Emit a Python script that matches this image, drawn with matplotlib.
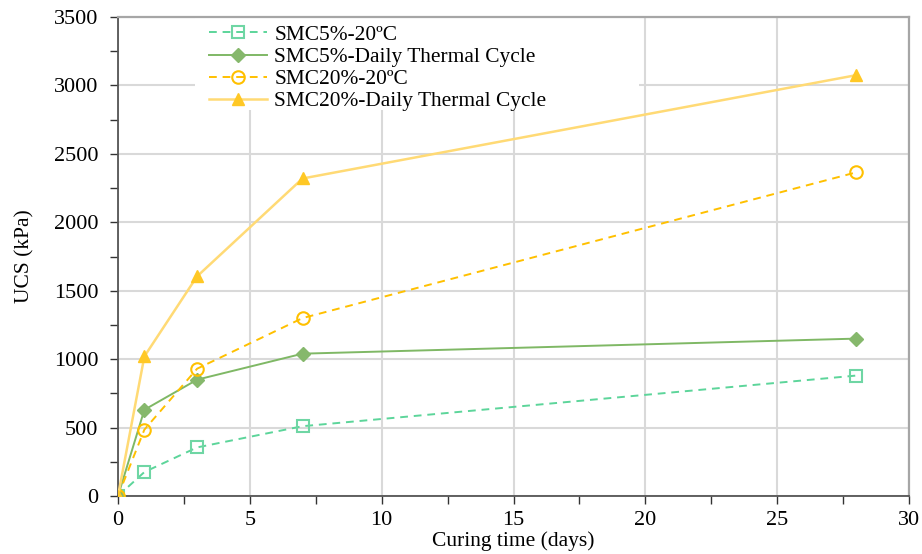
import matplotlib
matplotlib.use("Agg")
import matplotlib.pyplot as plt
from matplotlib.patches import Rectangle
from matplotlib.ticker import MultipleLocator

plt.rcParams['font.family'] = ['Liberation Serif', 'DejaVu Serif']

days = [0, 1, 3, 7, 28]
smc5_20 = [0, 175, 355, 510, 880]
smc5_dtc = [0, 630, 850, 1040, 1150]
smc20_20 = [0, 485, 930, 1300, 2365]
smc20_dtc = [0, 1020, 1605, 2320, 3075]

labels = ["SMC5%-20ºC", "SMC5%-Daily Thermal Cycle",
          "SMC20%-20ºC", "SMC20%-Daily Thermal Cycle"]

W, H = 922, 554
fig = plt.figure(figsize=(W / 100, H / 100), dpi=100)
ax = fig.add_axes([118 / W, 1 - 496 / H, (909 - 118) / W, (496 - 17) / H])

ax.plot(days, smc5_20, color='#5CD59A', ls=(0, (4, 3)), lw=1.4,
        marker='s', ms=9, mfc='none', mec='#6FD6A4', mew=1.5, label=labels[0], zorder=3)
ax.plot(days, smc5_dtc, color='#7FB865', ls='-', lw=1.4,
        marker='D', ms=7, mfc='#86B86C', mec='#86B86C', label=labels[1], zorder=3)
ax.plot(days, smc20_20, color='#FFC000', ls=(0, (4, 3)), lw=1.4,
        marker='o', ms=9, mfc='none', mec='#FFC000', mew=1.5, label=labels[2], zorder=3)
ax.plot(days, smc20_dtc, color='#FFDA75', ls='-', lw=1.8,
        marker='^', ms=9, mfc='#FFC825', mec='#FFC825', label=labels[3], zorder=3)

ax.set_xlim(0, 30)
ax.set_ylim(0, 3500)
ax.xaxis.set_major_locator(MultipleLocator(5))
ax.xaxis.set_minor_locator(MultipleLocator(2.5))
ax.yaxis.set_major_locator(MultipleLocator(500))
ax.yaxis.set_minor_locator(MultipleLocator(250))
ax.grid(True, which='major', color='#D9D9D9', lw=1.5)
ax.set_axisbelow(True)

ax.tick_params(axis='both', which='both', direction='out', color='#333333',
               labelsize=16, top=False, right=False)
ax.tick_params(which='both', length=6, width=1)
ax.tick_params(axis='x', pad=5)
ax.tick_params(axis='y', pad=8)

for side in ('left', 'bottom'):
    ax.spines[side].set_color('#555555')
    ax.spines[side].set_linewidth(1.3)
for side in ('top', 'right'):
    ax.spines[side].set_color('#A6A6A6')
    ax.spines[side].set_linewidth(1.6)

ax.set_xlabel('Curing time (days)', fontsize=15.5, labelpad=1)
ax.set_ylabel('UCS (kPa)', fontsize=15.5, labelpad=14)

# white backing area behind the legend, covering the grid
ax.add_patch(Rectangle((195 / W, 1 - 110 / H), (639 - 195) / W, (110 - 18) / H,
                       transform=fig.transFigure, facecolor='white',
                       edgecolor='none', zorder=1))

leg = ax.legend(loc='upper left', bbox_to_anchor=(209 / W, 1 - 25 / H),
                bbox_transform=fig.transFigure, frameon=False,
                fontsize=15.4, handlelength=2.7, handletextpad=0.35,
                labelspacing=0.1, borderpad=0, borderaxespad=0)

fig.savefig('out.png', dpi=100)
